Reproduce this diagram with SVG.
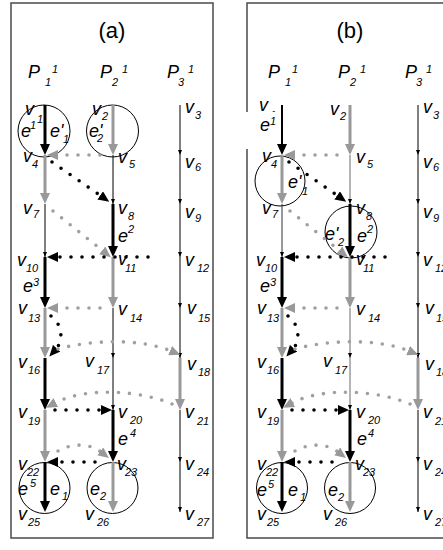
<svg xmlns="http://www.w3.org/2000/svg" width="443" height="550" viewBox="0 0 443 550">
<defs>
<style>
.fr{fill:none;stroke:#4a4a4a;stroke-width:1.5}
.ci{fill:none;stroke:#000;stroke-width:1}
.kb{stroke:#000;stroke-width:3;marker-end:url(#mb)}
.kb2{stroke:#000;stroke-width:2;marker-end:url(#mb)}
.kg{stroke:#999;stroke-width:3;marker-end:url(#mg)}
.tn{stroke:#000;stroke-width:1;marker-end:url(#ms)}
.tn1{stroke:#333;stroke-width:1;marker-end:url(#ms)}
.tn2{stroke:#6a6a6a;stroke-width:1;marker-end:url(#ms)}
.db{fill:none;stroke:#000;stroke-width:3.6;stroke-linecap:round;stroke-dasharray:0 11;marker-end:url(#mb)}
.dg{fill:none;stroke:#a0a0a0;stroke-width:3.6;stroke-linecap:round;stroke-dasharray:0 11;marker-end:url(#mg)}
text{font-family:"Liberation Sans",Arial,sans-serif;fill:#000}
.m{font-size:18px;font-style:italic}
.s{font-size:11px;font-style:italic}
.t{font-size:22px}
</style>
<marker id="mb" markerUnits="userSpaceOnUse" markerWidth="11" markerHeight="10" viewBox="0 0 11 10" refX="1" refY="5" orient="auto"><path d="M0,0L11,5L0,10z" fill="#000"/></marker>
<marker id="mg" markerUnits="userSpaceOnUse" markerWidth="11" markerHeight="10" viewBox="0 0 11 10" refX="1" refY="5" orient="auto"><path d="M0,0L11,5L0,10z" fill="#999"/></marker>
<marker id="ms" markerUnits="userSpaceOnUse" markerWidth="5" markerHeight="4" viewBox="0 0 5 4" refX="5" refY="2" orient="auto"><path d="M0,0L5,2L0,4z" fill="#000"/></marker>
</defs>
<rect width="443" height="550" fill="#fff"/>

<!-- Panel (a) -->
<g id="panel-a">
<rect class="fr" x="11" y="3" width="202" height="535"/>
<text class="t" x="112" y="38" text-anchor="middle">(a)</text>
<g id="a-P1"><text class="m" x="28" y="78">P</text><text class="s" x="45" y="86">1</text><text class="s" x="52" y="73">1</text></g>
<g id="a-P2"><text class="m" x="100" y="78">P</text><text class="s" x="112" y="86">2</text><text class="s" x="122" y="73">1</text></g>
<g id="a-P3"><text class="m" x="167" y="78">P</text><text class="s" x="178" y="86">3</text><text class="s" x="188" y="73">1</text></g>

<g id="a-circles">
<circle class="ci" cx="44" cy="131" r="26"/>
<circle class="ci" cx="112.5" cy="131" r="26"/>
<circle class="ci" cx="44.5" cy="488" r="25.5"/>
<circle class="ci" cx="112.5" cy="488" r="25.5"/>
</g>

<g id="a-connectors">
<line class="kb" x1="45" y1="105" x2="45" y2="145"/>
<line class="kg" x1="45" y1="155" x2="45" y2="194"/>
<line class="tn" x1="45" y1="204" x2="45" y2="257"/>
<line class="kb" x1="45" y1="257" x2="45" y2="298"/>
<line class="kg" x1="45" y1="308" x2="45" y2="348"/>
<line class="kb" x1="45" y1="358" x2="45" y2="400"/>
<line class="kg" x1="45" y1="410" x2="45" y2="452"/>
<line class="kb" x1="45" y1="462" x2="45" y2="502"/>

<line class="kg" x1="113" y1="105" x2="113" y2="145"/>
<line class="tn" x1="113" y1="155" x2="113" y2="204"/>
<line class="kb" x1="113" y1="204" x2="113" y2="247"/>
<line class="kg" x1="113" y1="257" x2="113" y2="298"/>
<line class="tn" x1="113" y1="308" x2="113" y2="358"/>
<line class="tn" x1="113" y1="358" x2="113" y2="410"/>
<line class="kb" x1="113" y1="410" x2="113" y2="452"/>
<line class="kg" x1="113" y1="462" x2="113" y2="502"/>

<line class="tn" x1="180" y1="105" x2="180" y2="155"/>
<line class="tn" x1="180" y1="155" x2="180" y2="204"/>
<line class="tn" x1="180" y1="204" x2="180" y2="257"/>
<line class="tn" x1="180" y1="257" x2="180" y2="308"/>
<line class="tn" x1="180" y1="308" x2="180" y2="358"/>
<line class="kg" x1="180" y1="358" x2="180" y2="400"/>
<line class="tn" x1="180" y1="410" x2="180" y2="462"/>
<line class="tn" x1="180" y1="462" x2="180" y2="512"/>

<path class="dg" d="M100,155H57"/>
<path class="db" d="M52,162L101,196"/>
<path class="dg" d="M53,211L103,251"/>
<path class="db" d="M148,257H57"/>
<path class="dg" d="M100,308H57"/>
<path class="db" d="M51,316C62,324 64,340 56,349"/>
<path class="dg" d="M58,349C90,340 140,338 171,351"/>
<path class="dg" d="M172,404C140,390 85,387 55,403"/>
<path class="db" d="M55,410H102"/>
<path class="dg" d="M58,451C70,444 88,442 101,452"/>
<path class="db" d="M95,462H57"/>
</g>

<g id="a-v1"><text class="m" x="25" y="115">v</text><text class="s" x="37" y="123">1</text></g>
<g id="a-v4"><text class="m" x="23" y="162">v</text><text class="s" x="32" y="168">4</text></g>
<g id="a-v7"><text class="m" x="23" y="214">v</text><text class="s" x="33" y="218">7</text></g>
<g id="a-v10"><text class="m" x="17" y="266">v</text><text class="s" x="26" y="272">10</text></g>
<g id="a-v13"><text class="m" x="18" y="314">v</text><text class="s" x="28" y="322">13</text></g>
<g id="a-v16"><text class="m" x="18" y="368">v</text><text class="s" x="28" y="374">16</text></g>
<g id="a-v19"><text class="m" x="18" y="418">v</text><text class="s" x="28" y="425">19</text></g>
<g id="a-v22"><text class="m" x="18" y="470">v</text><text class="s" x="27" y="476">22</text></g>
<g id="a-v25"><text class="m" x="18" y="520">v</text><text class="s" x="28" y="526">25</text></g>
<g id="a-v2"><text class="m" x="92" y="115">v</text><text class="s" x="102" y="120">2</text></g>
<g id="a-v5"><text class="m" x="118" y="163">v</text><text class="s" x="129" y="168">5</text></g>
<g id="a-v8"><text class="m" x="118" y="214">v</text><text class="s" x="128" y="220">8</text></g>
<g id="a-v11"><text class="m" x="118" y="265">v</text><text class="s" x="125" y="272">11</text></g>
<g id="a-v14"><text class="m" x="118" y="315">v</text><text class="s" x="130" y="322">14</text></g>
<g id="a-v17"><text class="m" x="85" y="367">v</text><text class="s" x="97" y="374">17</text></g>
<g id="a-v20"><text class="m" x="118" y="418">v</text><text class="s" x="130" y="424">20</text></g>
<g id="a-v23"><text class="m" x="117" y="470">v</text><text class="s" x="125" y="476">23</text></g>
<g id="a-v26"><text class="m" x="85" y="520">v</text><text class="s" x="97" y="526">26</text></g>
<g id="a-v3"><text class="m" x="185" y="113">v</text><text class="s" x="195" y="119">3</text></g>
<g id="a-v6"><text class="m" x="185" y="168">v</text><text class="s" x="195" y="171">6</text></g>
<g id="a-v9"><text class="m" x="185" y="218">v</text><text class="s" x="195" y="222">9</text></g>
<g id="a-v12"><text class="m" x="185" y="266">v</text><text class="s" x="197" y="272">12</text></g>
<g id="a-v15"><text class="m" x="187" y="314">v</text><text class="s" x="198" y="322">15</text></g>
<g id="a-v18"><text class="m" x="187" y="370">v</text><text class="s" x="198" y="376">18</text></g>
<g id="a-v21"><text class="m" x="185" y="418">v</text><text class="s" x="197" y="425">21</text></g>
<g id="a-v24"><text class="m" x="185" y="470">v</text><text class="s" x="197" y="476">24</text></g>
<g id="a-v27"><text class="m" x="185" y="520">v</text><text class="s" x="197" y="526">27</text></g>

<g id="a-labels">
<text class="m" x="21" y="137">e</text><text class="s" x="30" y="129">1</text>
<text class="m" x="50" y="137">e'</text><text class="s" x="63" y="143">1</text>
<text class="m" x="89" y="137">e'</text><text class="s" x="97" y="142">2</text>
<text class="m" x="118" y="242">e</text><text class="s" x="128" y="233">2</text>
<text class="m" x="23" y="292">e</text><text class="s" x="33" y="286">3</text>
<text class="m" x="118" y="445">e</text><text class="s" x="130" y="437">4</text>
<text class="m" x="18" y="495">e</text><text class="s" x="30" y="487">5</text>
<text class="m" x="50" y="495">e</text><text class="s" x="62" y="500">1</text>
<text class="m" x="90" y="495">e</text><text class="s" x="100" y="500">2</text>
</g>
</g>

<!-- Panel (b) -->
<path class="fr" d="M443,3H247V538H443"/>
<g id="panel-b" transform="translate(237,0)">
<text class="t" x="113" y="38" text-anchor="middle">(b)</text>
<g id="b-P1"><text class="m" x="31" y="78">P</text><text class="s" x="48" y="86">1</text><text class="s" x="55" y="73">1</text></g>
<g id="b-P2"><text class="m" x="101" y="78">P</text><text class="s" x="113" y="86">2</text><text class="s" x="123" y="73">1</text></g>
<g id="b-P3"><text class="m" x="168" y="78">P</text><text class="s" x="179" y="86">3</text><text class="s" x="189" y="73">1</text></g>

<g id="b-circles">
<circle class="ci" cx="43" cy="181" r="25"/>
<circle class="ci" cx="114" cy="232" r="26"/>
<circle class="ci" cx="45" cy="488" r="25.5"/>
<circle class="ci" cx="113" cy="488" r="25.5"/>
</g>

<g id="b-connectors">
<line class="kb2" x1="45" y1="105" x2="45" y2="145"/>
<line class="kg" x1="45" y1="155" x2="45" y2="194"/>
<line class="tn1" x1="45" y1="204" x2="45" y2="257"/>
<line class="kb" x1="45" y1="257" x2="45" y2="298"/>
<line class="kg" x1="45" y1="308" x2="45" y2="348"/>
<line class="kb" x1="45" y1="358" x2="45" y2="400"/>
<line class="kg" x1="45" y1="410" x2="45" y2="452"/>
<line class="kb" x1="45" y1="462" x2="45" y2="502"/>

<line class="kg" x1="113" y1="105" x2="113" y2="145"/>
<line class="tn2" x1="113" y1="155" x2="113" y2="204"/>
<line class="kb" x1="113" y1="204" x2="113" y2="247"/>
<line class="kg" x1="113" y1="257" x2="113" y2="298"/>
<line class="tn2" x1="113" y1="308" x2="113" y2="358"/>
<line class="tn2" x1="113" y1="358" x2="113" y2="410"/>
<line class="kb" x1="113" y1="410" x2="113" y2="452"/>
<line class="kg" x1="113" y1="462" x2="113" y2="502"/>

<line class="tn" x1="181" y1="105" x2="181" y2="155"/>
<line class="tn" x1="181" y1="155" x2="181" y2="204"/>
<line class="tn" x1="181" y1="204" x2="181" y2="257"/>
<line class="tn" x1="181" y1="257" x2="181" y2="308"/>
<line class="tn" x1="181" y1="308" x2="181" y2="358"/>
<line class="kg" x1="181" y1="358" x2="181" y2="400"/>
<line class="tn" x1="181" y1="410" x2="181" y2="462"/>
<line class="tn" x1="181" y1="462" x2="181" y2="512"/>

<path class="dg" d="M100,155H57"/>
<path class="db" d="M52,162L101,196"/>
<path class="dg" d="M53,211L103,251"/>
<path class="db" d="M148,257H57"/>
<path class="dg" d="M100,308H57"/>
<path class="db" d="M51,316C62,324 64,340 56,349"/>
<path class="dg" d="M58,349C90,340 140,338 172,351"/>
<path class="dg" d="M173,404C140,390 85,387 55,403"/>
<path class="db" d="M55,410H102"/>
<path class="dg" d="M58,451C70,444 88,442 101,452"/>
<path class="db" d="M95,462H57"/>
</g>

<g id="b-v1"><text class="m" x="22" y="111">v</text><text class="s" x="33" y="119">1</text></g>
<rect x="-5" y="112" width="45" height="37" fill="#fff"/>
<g id="b-v4"><text class="m" x="25" y="162">v</text><text class="s" x="34" y="168">4</text></g>
<g id="b-v7"><text class="m" x="25" y="214">v</text><text class="s" x="35" y="218">7</text></g>
<g id="b-v10"><text class="m" x="19" y="266">v</text><text class="s" x="28" y="272">10</text></g>
<g id="b-v13"><text class="m" x="20" y="314">v</text><text class="s" x="30" y="322">13</text></g>
<g id="b-v16"><text class="m" x="20" y="368">v</text><text class="s" x="30" y="374">16</text></g>
<g id="b-v19"><text class="m" x="20" y="418">v</text><text class="s" x="30" y="425">19</text></g>
<g id="b-v22"><text class="m" x="20" y="470">v</text><text class="s" x="29" y="476">22</text></g>
<g id="b-v25"><text class="m" x="20" y="520">v</text><text class="s" x="30" y="526">25</text></g>
<g id="b-v2"><text class="m" x="93" y="115">v</text><text class="s" x="103" y="120">2</text></g>
<g id="b-v5"><text class="m" x="119" y="163">v</text><text class="s" x="130" y="168">5</text></g>
<g id="b-v8"><text class="m" x="119" y="214">v</text><text class="s" x="129" y="220">8</text></g>
<g id="b-v11"><text class="m" x="119" y="265">v</text><text class="s" x="126" y="272">11</text></g>
<g id="b-v14"><text class="m" x="119" y="315">v</text><text class="s" x="131" y="322">14</text></g>
<g id="b-v17"><text class="m" x="86" y="367">v</text><text class="s" x="98" y="374">17</text></g>
<g id="b-v20"><text class="m" x="119" y="418">v</text><text class="s" x="131" y="424">20</text></g>
<g id="b-v23"><text class="m" x="118" y="470">v</text><text class="s" x="126" y="476">23</text></g>
<g id="b-v26"><text class="m" x="86" y="520">v</text><text class="s" x="98" y="526">26</text></g>
<g id="b-v3"><text class="m" x="186" y="113">v</text><text class="s" x="196" y="119">3</text></g>
<g id="b-v6"><text class="m" x="186" y="168">v</text><text class="s" x="196" y="171">6</text></g>
<g id="b-v9"><text class="m" x="186" y="218">v</text><text class="s" x="196" y="222">9</text></g>
<g id="b-v12"><text class="m" x="186" y="266">v</text><text class="s" x="198" y="272">12</text></g>
<g id="b-v15"><text class="m" x="188" y="314">v</text><text class="s" x="199" y="322">15</text></g>
<g id="b-v18"><text class="m" x="188" y="370">v</text><text class="s" x="199" y="376">18</text></g>
<g id="b-v21"><text class="m" x="186" y="418">v</text><text class="s" x="198" y="425">21</text></g>
<g id="b-v24"><text class="m" x="186" y="470">v</text><text class="s" x="198" y="476">24</text></g>
<g id="b-v27"><text class="m" x="186" y="520">v</text><text class="s" x="198" y="526">27</text></g>

<g id="b-labels">
<text class="m" x="23" y="131">e</text><text class="s" x="33" y="125">1</text>
<text class="m" x="51" y="188">e'</text><text class="s" x="65" y="195">1</text>
<text class="m" x="88" y="240">e'</text><text class="s" x="101" y="246">2</text>
<text class="m" x="120" y="242">e</text><text class="s" x="130" y="233">2</text>
<text class="m" x="23" y="292">e</text><text class="s" x="33" y="286">3</text>
<text class="m" x="120" y="445">e</text><text class="s" x="131" y="437">4</text>
<text class="m" x="20" y="496">e</text><text class="s" x="31" y="488">5</text>
<text class="m" x="51" y="496">e</text><text class="s" x="63" y="501">1</text>
<text class="m" x="91" y="496">e</text><text class="s" x="101" y="501">2</text>
</g>
</g>
</svg>
